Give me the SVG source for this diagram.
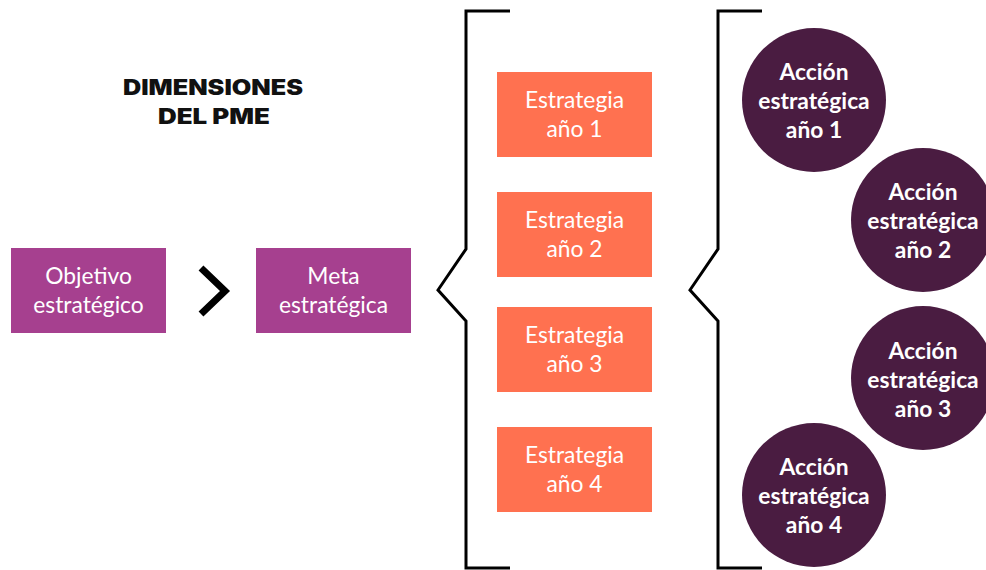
<svg xmlns="http://www.w3.org/2000/svg" width="986" height="570" viewBox="0 0 986 570">
<style>
.bg{fill:#ffffff}
.pbox{fill:#A6408F}
.obox{fill:#FF7150}
.circ{fill:#4A1C41}
.t{font-family:Lato,"Open Sans","Liberation Sans",sans-serif;font-size:22.8px;fill:#ffffff;text-anchor:middle}
.tb{font-family:Lato,"Open Sans","Liberation Sans",sans-serif;font-size:22.8px;font-weight:bold;fill:#ffffff;text-anchor:middle}
.title{font-family:Inter,"Liberation Sans",sans-serif;font-size:21px;font-weight:900;fill:#111111;text-anchor:middle}
.br{fill:none;stroke:#000000;stroke-width:3}
.chev{fill:none;stroke:#000000;stroke-width:7}
</style>
<rect class="bg" x="0" y="0" width="986" height="570"/>
<g id="title">
<text class="title" x="213" y="95" textLength="180" lengthAdjust="spacingAndGlyphs">DIMENSIONES</text>
<text class="title" x="214" y="124" textLength="112" lengthAdjust="spacingAndGlyphs">DEL PME</text>
</g>
<g id="connectors">
<polyline class="chev" points="201,268 225,291 201,314"/>
<polyline class="br" points="510,11 466,11 466,249 438,290 466,321 466,568 510,568"/>
<polyline class="br" points="762,11 718,11 718,249 690,290 718,321 718,568 762,568"/>
</g>
<g id="objetivo">
<rect class="pbox" x="11" y="248" width="155" height="85"/>
<text class="t" x="88.5" y="284">Objetivo</text>
<text class="t" x="88.5" y="313">estratégico</text>
</g>
<g id="meta">
<rect class="pbox" x="256" y="248" width="155" height="85"/>
<text class="t" x="333.5" y="284">Meta</text>
<text class="t" x="333.5" y="313">estratégica</text>
</g>
<g id="estrategia1">
<rect class="obox" x="497" y="72" width="155" height="85"/>
<text class="t" x="574.5" y="108">Estrategia</text>
<text class="t" x="574.5" y="137">año 1</text>
</g>
<g id="estrategia2">
<rect class="obox" x="497" y="192" width="155" height="85"/>
<text class="t" x="574.5" y="228">Estrategia</text>
<text class="t" x="574.5" y="257">año 2</text>
</g>
<g id="estrategia3">
<rect class="obox" x="497" y="307" width="155" height="85"/>
<text class="t" x="574.5" y="343">Estrategia</text>
<text class="t" x="574.5" y="372">año 3</text>
</g>
<g id="estrategia4">
<rect class="obox" x="497" y="427" width="155" height="85"/>
<text class="t" x="574.5" y="463">Estrategia</text>
<text class="t" x="574.5" y="492">año 4</text>
</g>
<g id="accion1">
<circle class="circ" cx="814" cy="100" r="72"/>
<text class="tb" x="814" y="80">Acción</text>
<text class="tb" x="814" y="109">estratégica</text>
<text class="tb" x="814" y="138">año 1</text>
</g>
<g id="accion2">
<circle class="circ" cx="923" cy="220" r="72"/>
<text class="tb" x="923" y="200">Acción</text>
<text class="tb" x="923" y="229">estratégica</text>
<text class="tb" x="923" y="258">año 2</text>
</g>
<g id="accion3">
<circle class="circ" cx="923" cy="378" r="72"/>
<text class="tb" x="923" y="359">Acción</text>
<text class="tb" x="923" y="388">estratégica</text>
<text class="tb" x="923" y="417">año 3</text>
</g>
<g id="accion4">
<circle class="circ" cx="814" cy="495" r="72"/>
<text class="tb" x="814" y="475">Acción</text>
<text class="tb" x="814" y="504">estratégica</text>
<text class="tb" x="814" y="533">año 4</text>
</g>
</svg>
